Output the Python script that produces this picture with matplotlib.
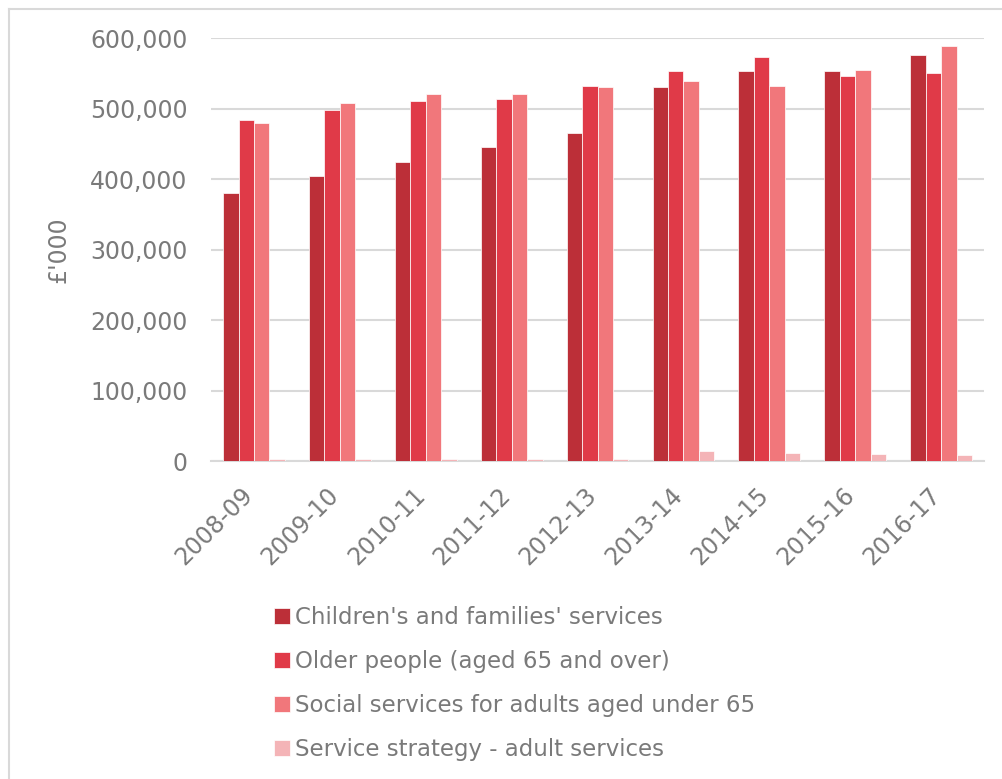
import numpy as np
import matplotlib.pyplot as plt
from matplotlib.lines import Line2D
from matplotlib.ticker import FuncFormatter
from matplotlib.transforms import ScaledTranslation

# Data (£'000)
years = ["2008-09", "2009-10", "2010-11", "2011-12", "2012-13",
         "2013-14", "2014-15", "2015-16", "2016-17"]
children = [380000, 405000, 424000, 446000, 466000, 531000, 554000, 554000, 577000]
older = [484000, 499000, 511000, 514000, 533000, 554000, 573000, 547000, 551000]
adults_u65 = [480000, 509000, 521000, 521000, 531000, 539000, 532000, 555000, 589000]
strategy = [3000, 3500, 3000, 3000, 3000, 14600, 12700, 9900, 8500]

series = [
    ("Children's and families' services", children, "#bc2f38"),
    ("Older people (aged 65 and over)", older, "#e03a48"),
    ("Social services for adults aged under 65", adults_u65, "#f1777b"),
    ("Service strategy - adult services", strategy, "#f4b4b7"),
]

text_col = "#7a7a7a"
grid_col = "#d9d9d9"
plt.rcParams['font.family'] = ['DejaVu Sans']

fig = plt.figure(figsize=(10.02, 7.79), dpi=100)
ax = fig.add_axes([0.2106, 0.4076, 0.7715, 0.5432])

x = np.arange(len(years))
w = 0.18
for i, (name, vals, col) in enumerate(series):
    ax.bar(x + (i - 1.5) * w, vals, width=w, color=col, label=name,
           edgecolor="white", linewidth=0.5, zorder=3)

ax.set_xlim(-0.5, len(years) - 0.5)
ax.set_ylim(0, 600000)
ax.set_yticks(np.arange(0, 600001, 100000))
ax.yaxis.set_major_formatter(FuncFormatter(lambda v, p: f"{int(v):,}"))

ax.grid(axis="y", color=grid_col, linewidth=1.5, zorder=0)
for s in ["top", "right", "left"]:
    ax.spines[s].set_visible(False)
ax.spines["bottom"].set_color(grid_col)
ax.spines["bottom"].set_linewidth(1.5)
ax.tick_params(length=0, colors=text_col, labelsize=17)
ax.tick_params(axis="y", pad=17)
ax.tick_params(axis="x", pad=12)

ax.set_xticks(x)
ax.set_xticklabels(years, rotation=45, ha="right", va="top",
                   rotation_mode="anchor")
# nudge the slanted labels down-left (after tick_params, which resets ticks)
shift = ScaledTranslation(-13 / 100, -5 / 100, fig.dpi_scale_trans)
for lab in ax.get_xticklabels():
    lab.set_transform(lab.get_transform() + shift)

ax.set_ylabel("£'000", color=text_col, fontsize=17, labelpad=14)

fig.legend(loc="upper left", bbox_to_anchor=(0.264, 0.234), frameon=False,
           fontsize=16.5, labelcolor=text_col, handlelength=0.7, handleheight=0.7,
           handletextpad=0.25, labelspacing=0.92, borderaxespad=0)

# light frame at top and left edge
fig.add_artist(Line2D([0.009, 1.0], [0.9885, 0.9885], color=grid_col, lw=1.5,
                      transform=fig.transFigure))
fig.add_artist(Line2D([0.009, 0.009], [0.0, 0.9885], color=grid_col, lw=1.5,
                      transform=fig.transFigure))

fig.savefig("out.png", dpi=100)
